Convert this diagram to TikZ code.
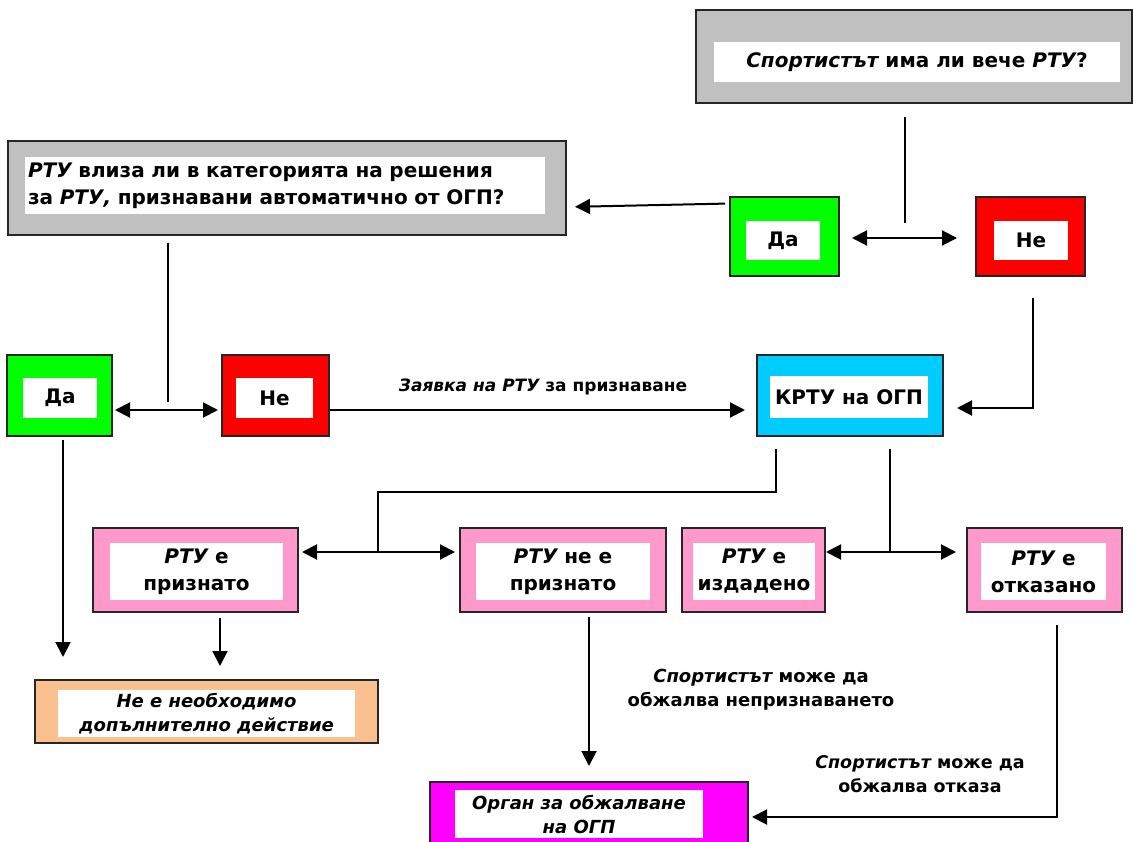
\documentclass[tikz,border=0pt]{standalone}
\usepackage{fontspec}
\setmainfont{DejaVu Sans}
\usepackage{tikz}
\usetikzlibrary{positioning,arrows.meta}

\definecolor{grayq}{HTML}{C0C0C0}
\definecolor{greenq}{HTML}{00FF00}
\definecolor{redq}{HTML}{FF0000}
\definecolor{cyanq}{HTML}{00CCFF}
\definecolor{pinkq}{HTML}{FF99CC}
\definecolor{peachq}{HTML}{FAC090}
\definecolor{magq}{HTML}{FF00FF}

\newcommand{\bi}[1]{{\itshape #1}}

\tikzset{
  frame/.style={draw=black!85, line width=1.6pt, inner sep=0pt, outer sep=0pt},
  inbox/.style={fill=white, inner sep=0pt, align=center,
    font=\bfseries\fontsize{20}{27}\selectfont},
  lbl/.style={inner sep=0pt, align=center,
    font=\bfseries\fontsize{18}{24}\selectfont},
}

\begin{document}
\begin{tikzpicture}[x=1pt, y=-1pt, >={Triangle[length=15pt,width=15pt]}, line width=2pt]
\useasboundingbox (0,0) rectangle (1134,842);
\clip (0,0) rectangle (1134,842);

% question boxes (grey)
\node[frame, fill=grayq, minimum width=436pt, minimum height=93pt] (topq) at (914,56.5) {};
\node[inbox, minimum width=406pt, minimum height=40pt] (topqt) at (917,62)
  {\bi{Спортистът} има ли вече \bi{РТУ}?};
\node[frame, fill=grayq, minimum width=558pt, minimum height=94pt] (catq) at (287,188) {};
\node[inbox, align=left, minimum width=520pt, minimum height=57pt, text width=514pt] (catqt) at (285,186)
  {\bi{РТУ} влиза ли в категорията на решения\\за \bi{РТУ,} признавани автоматично от ОГП?};

% yes / no (top)
\node[frame, fill=greenq, minimum width=109pt, minimum height=79pt] (daA) at (784.5,236.5) {};
\node[inbox, minimum width=74pt, minimum height=39pt] at (783,240.5) {Да};
\node[frame, fill=redq, minimum width=109pt, minimum height=79pt] (neA) at (1030.5,236.5) {};
\node[inbox, minimum width=74pt, minimum height=39pt] at (1031,240.5) {Не};

% yes / no (left)
\node[frame, fill=greenq, minimum width=105pt, minimum height=81pt] (daB) at (59.5,395.5) {};
\node[inbox, minimum width=74pt, minimum height=40pt] at (60,398) {Да};
\node[frame, fill=redq, minimum width=107pt, minimum height=81pt] (neB) at (275.5,395.5) {};
\node[inbox, minimum width=77pt, minimum height=40pt] at (274.5,398) {Не};

% committee
\node[frame, fill=cyanq, minimum width=186pt, minimum height=81pt] (krtu) at (850,395.5) {};
\node[inbox, minimum width=158pt, minimum height=42pt] at (849,397) {КРТУ на ОГП};

% outcomes (pink)
\node[frame, fill=pinkq, minimum width=205pt, minimum height=84pt] (p1) at (195.5,570) {};
\node[inbox, minimum width=173pt, minimum height=57pt] at (196.5,571.5) {\bi{РТУ} е\\признато};
\node[frame, fill=pinkq, minimum width=206pt, minimum height=84pt] (p2) at (563,570) {};
\node[inbox, minimum width=174pt, minimum height=57pt] at (563,571.5) {\bi{РТУ} не е\\признато};
\node[frame, fill=pinkq, minimum width=143pt, minimum height=84pt] (p3) at (753.5,570) {};
\node[inbox, minimum width=122pt, minimum height=57pt] at (754,571.5) {\bi{РТУ} е\\издадено};
\node[frame, fill=pinkq, minimum width=155pt, minimum height=84pt] (p4) at (1044.5,570) {};
\node[inbox, minimum width=125pt, minimum height=57pt] at (1043.5,571.5) {\bi{РТУ} е\\отказано};

% end boxes
\node[frame, fill=peachq, minimum width=343pt, minimum height=63pt] (noact) at (206.5,711.5) {};
\node[inbox, font=\bfseries\itshape\fontsize{18}{24}\selectfont, minimum width=297pt, minimum height=47pt]
  at (206.5,713.5) {Не е необходимо\\допълнително действие};
\node[frame, fill=magq, minimum width=318pt, minimum height=80pt] (organ) at (589,822) {};
\node[inbox, font=\bfseries\itshape\fontsize{18}{24}\selectfont, minimum width=248pt, minimum height=48pt]
  at (579,814) {Орган за обжалване\\на ОГП};

% connectors (top)
\draw ([xshift=-9pt,yshift=-14pt]topq.south) -- ++(0,106);
\draw[<->, shorten <=13pt, shorten >=19pt] ([yshift=-1.5pt]daA.east) -- ([yshift=-1.5pt]neA.west);
\draw[->, shorten <=5pt, shorten >=9pt] ([yshift=33pt]daA.west) -- ([yshift=-19pt]catq.east);
\draw[->] ([xshift=2.5pt,yshift=-22pt]neA.south) |- ([xshift=14pt,yshift=-12.5pt]krtu.east);

% connectors (left)
\draw ([xshift=-119pt,yshift=-8pt]catq.south) -- ++(0,159);
\draw[<->, shorten <=3pt, shorten >=4pt] ([yshift=-14.5pt]daB.east) -- ([yshift=-14.5pt]neB.west);
\draw[->, shorten <=1pt, shorten >=12pt] ([yshift=-14.5pt]neB.east) -- ([yshift=-14.5pt]krtu.west)
  node[lbl, font=\bfseries\fontsize{17}{24}\selectfont, midway, above=14pt] {\bi{Заявка на РТУ} за признаване};

% connectors (committee to outcomes)
\draw ([xshift=-74pt,yshift=-13pt]krtu.south) -- ++(0,43) -| ++(-398,60);
\draw[<->, shorten <=4pt, shorten >=5pt] ([yshift=18pt]p1.east) -- ([yshift=18pt]p2.west);
\draw ([xshift=40pt,yshift=-13pt]krtu.south) -- ++(0,103);
\draw[<->, shorten <=1pt, shorten >=11pt] ([yshift=18pt]p3.east) -- ([yshift=18pt]p4.west);

% connectors (down)
\coordinate (endA) at (63,657);
\coordinate (endB) at (220,666);
\draw[->, shorten <=4pt] (daB.south -| endA) -- (endA);
\draw[->, shorten <=6pt] (p1.south -| endB) -- (endB);
\draw[->, shorten <=5pt, shorten >=16pt] (p2.south -| organ.north) -- (organ.north);
\node[lbl] (lblA) at (761,690) {\bi{Спортистът} може да\\обжалва непризнаването};
\draw[->, shorten >=4pt] ([xshift=12.5pt,yshift=-13pt]p4.south) |- ([yshift=5pt]organ.east);
\node[lbl, font=\bfseries\fontsize{17.5}{24}\selectfont] (lblB) at (920,774) {\bi{Спортистът} може да\\обжалва отказа};
\end{tikzpicture}
\end{document}
